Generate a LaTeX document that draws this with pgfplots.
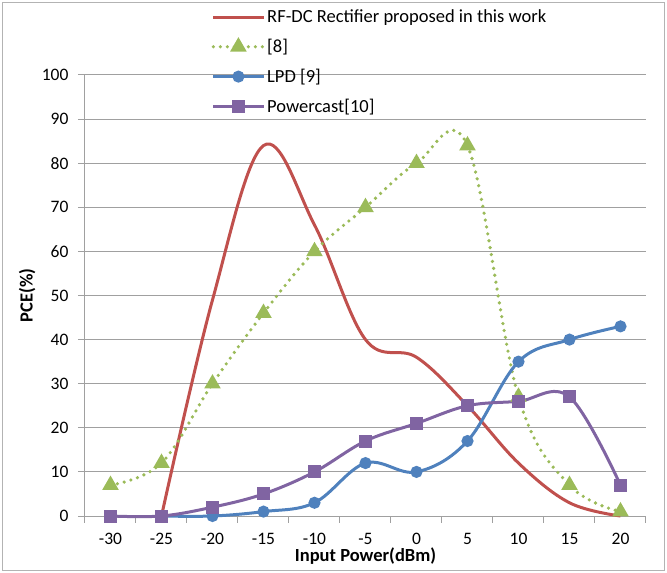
\documentclass[border=0pt]{standalone}
\usepackage{pgfplots}
\pgfplotsset{compat=1.18}
\usepackage{fontspec}
\setmainfont{Carlito}

\definecolor{cred}{HTML}{C0504D}
\definecolor{cgreen}{HTML}{9BBB59}
\definecolor{cblue}{HTML}{4F81BD}
\definecolor{cpurple}{HTML}{8064A2}
\definecolor{cgrid}{HTML}{A0A0A0}

\begin{document}
\begin{tikzpicture}
\path[use as bounding box] (-85pt,-57pt) rectangle (582pt,516pt);
\draw[cgrid!80, line width=1pt] (-82.5pt,-54.5pt) rectangle (579.5pt,513.5pt);
\begin{axis}[
    at={(0,0)}, anchor=south west,
    scale only axis,
    width=561pt, height=441pt,
    xmin=-32.5, xmax=22.5,
    ymin=0, ymax=100,
    axis x line*=bottom,
    axis y line*=left,
    axis line style={-, cgrid, line width=1pt},
    xtick={-30,-25,...,20},
    minor xtick={-32.5,-27.5,...,22.5},
    ytick={0,10,...,100},
    tick align=outside,
    major x tick style={draw=none},
    minor x tick style={cgrid, line width=1pt},
    ytick style={cgrid, line width=1pt},
    major tick length=7pt,
    minor tick length=7pt,
    ymajorgrids,
    grid style={cgrid, line width=1pt},
    /pgf/number format/assume math mode=true,
    ticklabel style={font=\fontsize{17.5}{20}\selectfont},
    xticklabel style={yshift=-7pt},
    yticklabel style={xshift=-6pt},
    xlabel={\textbf{Input Power(dBm)}},
    ylabel={\textbf{PCE(\%)}},
    label style={font=\fontsize{18.5}{21}\selectfont},
    xlabel style={at={(axis description cs:0.5,-0.091)}, anchor=center},
    ylabel style={at={(axis description cs:-0.103,0.5)}, anchor=center},
    legend cell align=left,
    legend style={draw=none, fill=none, at={(0.22,1.157)}, anchor=north west,
        font=\fontsize{18.5}{21}\selectfont, row sep=11pt},
    legend image code/.code={\draw[mark repeat=2,mark phase=2] plot coordinates {(0pt,0pt) (25pt,0pt) (50pt,0pt)};},
    clip=false,
]
\addplot[cred, line width=3pt, smooth, tension=0.6, no markers]
    coordinates {(-25,0) (-20,49) (-15,84) (-10,66) (-5,40) (0,36) (5,25) (10,12) (15,3) (20,0)};
\addlegendentry{RF-DC Rectifier proposed in this work}
\addplot[cgreen, line width=3.6pt, smooth, tension=0.6, line cap=round, dash pattern=on 0pt off 7pt,
    mark=triangle*, mark size=6pt, mark options={solid}]
    coordinates {(-30,7) (-25,12) (-20,30) (-15,46) (-10,60) (-5,70) (0,80) (5,84) (10,27) (15,7) (20,1)};
\addlegendentry{[8]}
\addplot[cblue, line width=3pt, smooth, tension=0.6, mark=*, mark size=4.5pt]
    coordinates {(-25,0) (-20,0) (-15,1) (-10,3) (-5,12) (0,10) (5,17) (10,35) (15,40) (20,43)};
\addlegendentry{LPD [9]}
\addplot[cpurple, line width=3pt, smooth, tension=0.6, mark=square*, mark size=5pt]
    coordinates {(-30,0) (-25,0) (-20,2) (-15,5) (-10,10) (-5,17) (0,21) (5,25) (10,26) (15,27) (20,7)};
\addlegendentry{Powercast[10]}
\end{axis}
\end{tikzpicture}
\end{document}
